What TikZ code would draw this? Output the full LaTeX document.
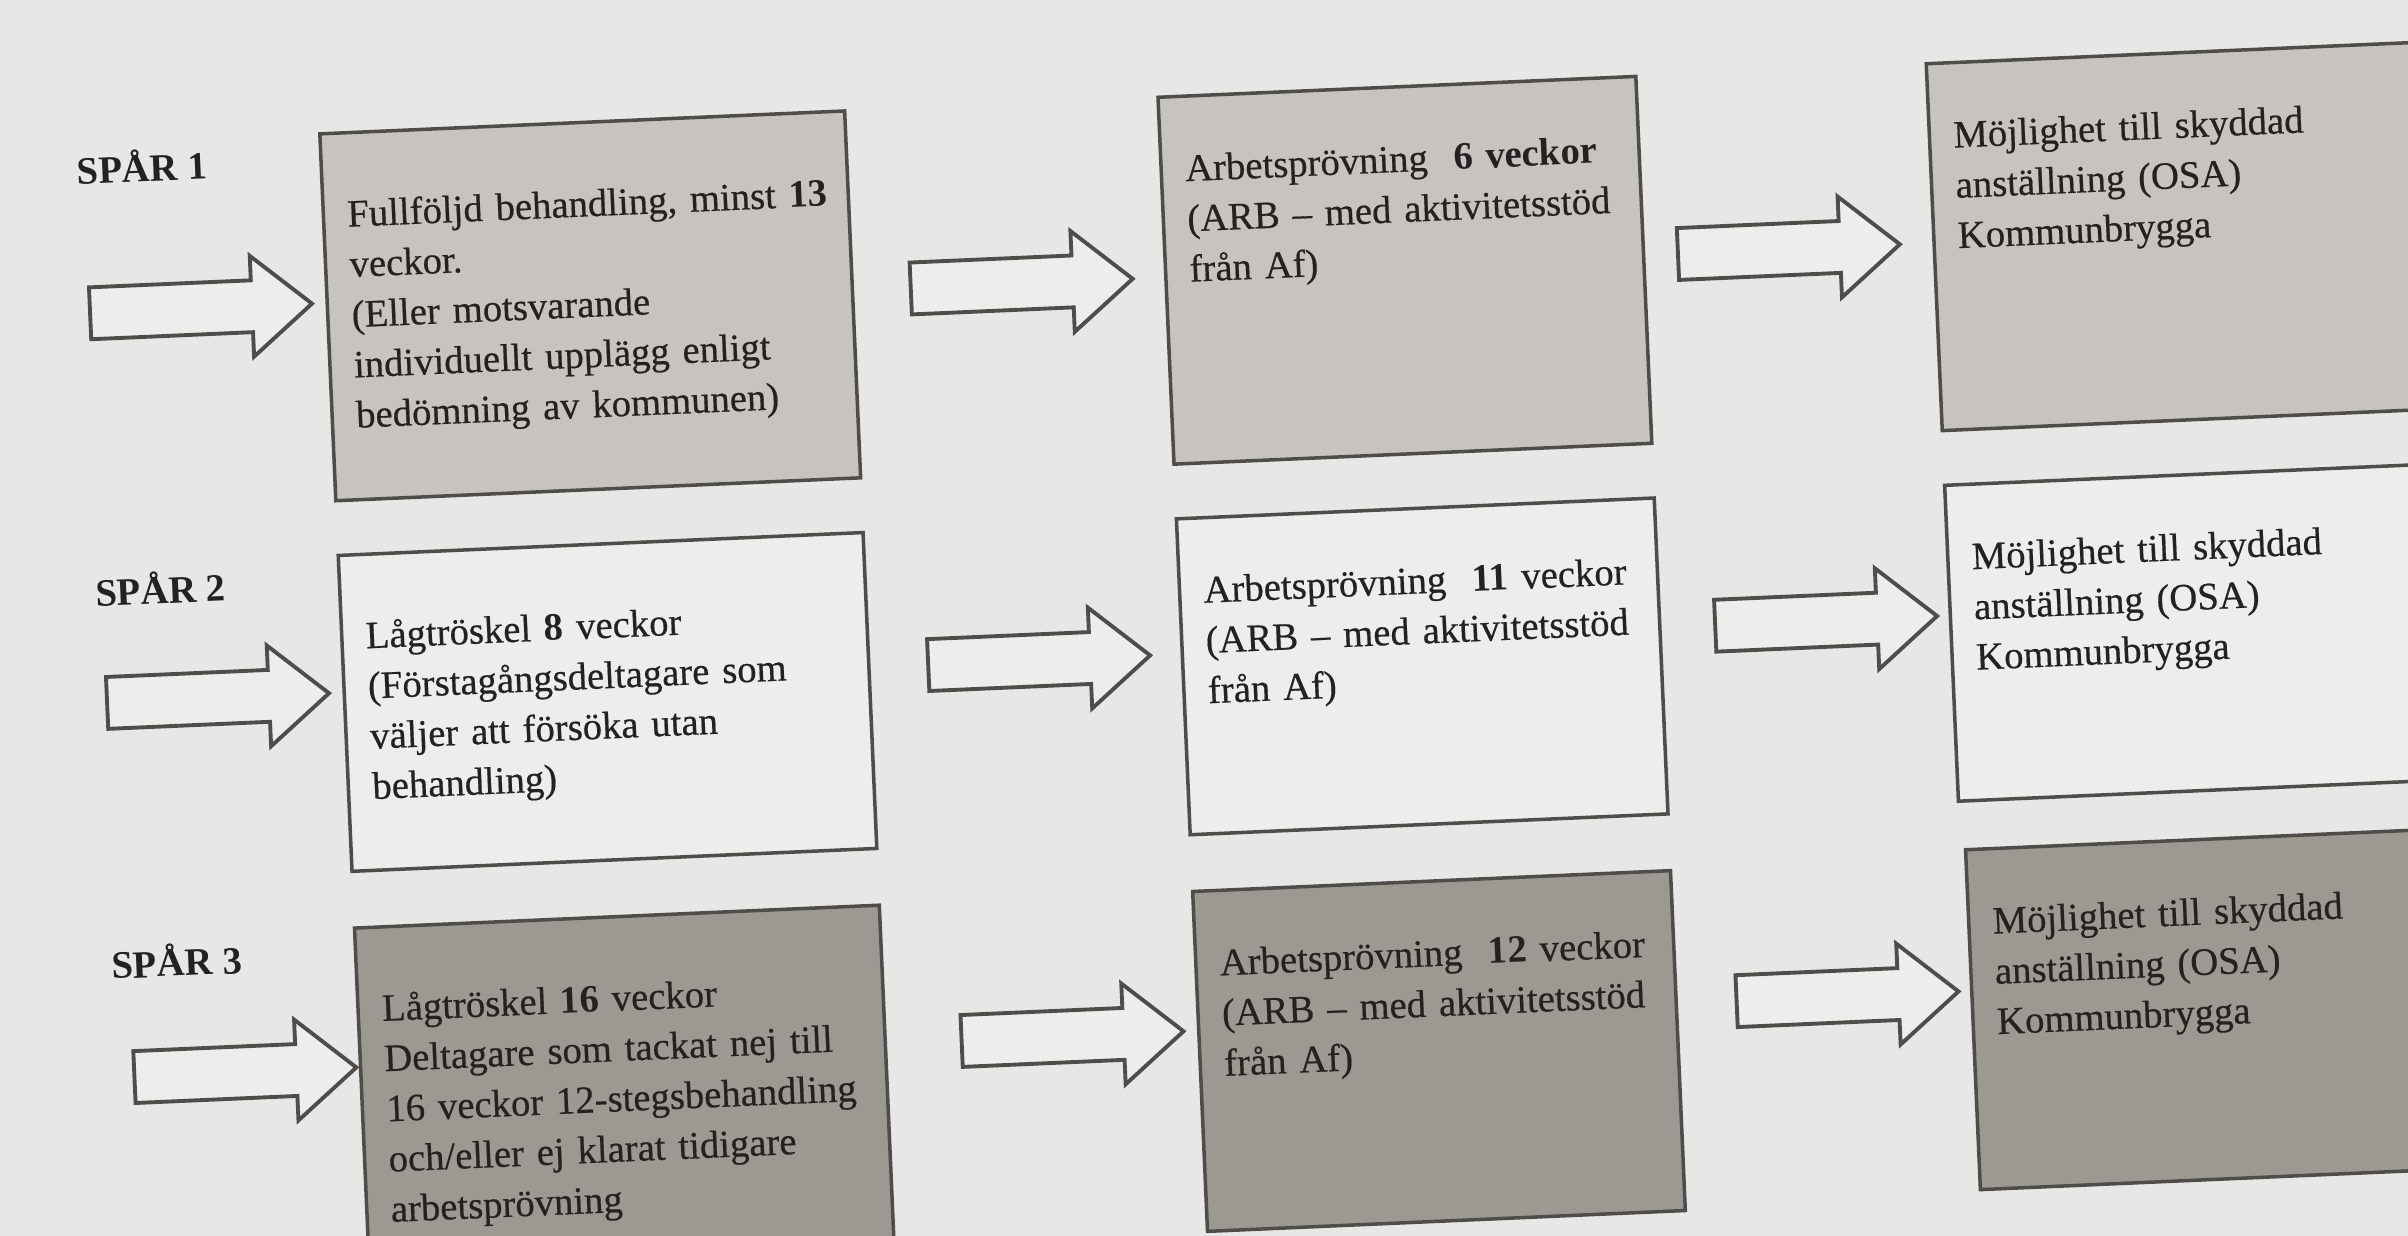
\documentclass[tikz,border=0pt]{standalone}
\usepackage{fontspec}
\setmainfont{Liberation Serif}[UprightFeatures={FakeBold=0.5}]
\usetikzlibrary{shapes.arrows}
\definecolor{paper}{HTML}{E7E7E5}
\definecolor{edge}{HTML}{4F4D4A}
\definecolor{ink}{HTML}{232220}
\definecolor{rowone}{HTML}{C7C4BF}
\definecolor{rowtwo}{HTML}{EDEDEB}
\definecolor{rowthree}{HTML}{9C9892}
\tikzset{
  box/.style={draw=edge, line width=1pt, anchor=north west, align=left,
    inner xsep=0.24cm, inner ysep=0pt, text=ink,
    font=\fontsize{11}{14.3}\selectfont},
  colA/.style={box, text width=4.77cm, text height=0.94cm},
  colB/.style={box, text width=4.30cm, text height=0.85cm},
  colC/.style={box, text width=4.52cm, text height=0.85cm},
  flow/.style={single arrow, draw=edge, fill=rowtwo, line width=1.1pt,
    minimum height=2.22cm, single arrow head extend=0.245cm,
    single arrow tip angle=80, inner sep=0pt,
    text height=0.24cm, text depth=0.24cm},
  lbl/.style={anchor=base west, inner sep=0pt, text=ink,
    font=\bfseries\fontsize{11}{13}\selectfont}
}
\begin{document}
\begin{tikzpicture}[x=0.01cm, y=-0.01cm]
  \useasboundingbox (0,0) rectangle (2408,1236);
  \fill[paper] (0,0) rectangle (2408,1236);
  \clip (0,0) rectangle (2408,1236);
  \begin{scope}[rotate around={2.5:(1204,618)}, transform shape]
    % track labels
    \foreach \y [count=\r] in {136,558,931}
      \node[lbl] (spar\r) at (97,\y) {SPÅR \r};
    % block arrows
    \foreach \x/\y/\n in {200/265/f11, 1021/276/f12, 1789/275/f13,
                          200/655/f21, 1022/653/f22, 1810/648/f23,
                          211/1030/f31, 1039/1030/f32, 1815/1024/f33}
      \node[flow] (\n) at (\x,\y) {};
    % SPÅR 1
    \node[colA, fill=rowone, text depth=2.73cm] (a1) at (340,94)
      {\mbox{Fullföljd behandling, minst \textbf{13}}\\veckor.\\(Eller motsvarande\\individuellt upplägg enligt\\bedömning av kommunen)};
    \node[colB, fill=rowone, text depth=2.82cm] (b1) at (1179,94)
      {Arbetsprövning\ \ \textbf{6 veckor}\\(ARB – med aktivitetsstöd\\från Af)};
    \node[colC, fill=rowone, text depth=2.82cm] (c1) at (1948,94)
      {Möjlighet till skyddad\\anställning (OSA)\\Kommunbrygga};
    % SPÅR 2
    \node[colA, fill=rowtwo, text depth=2.22cm] (a2) at (340,516)
      {Lågtröskel \textbf{8} veckor\\(Förstagångsdeltagare som\\väljer att försöka utan\\behandling)};
    \node[colB, fill=rowtwo, text depth=2.31cm] (b2) at (1179,516)
      {Arbetsprövning\ \ \textbf{11} veckor\\(ARB – med aktivitetsstöd\\från Af)};
    \node[colC, fill=rowtwo, text depth=2.31cm] (c2) at (1948,516)
      {Möjlighet till skyddad\\anställning (OSA)\\Kommunbrygga};
    % SPÅR 3
    \node[colA, fill=rowthree, text depth=2.46cm] (a3) at (340,889)
      {Lågtröskel \textbf{16} veckor\\Deltagare som tackat nej till\\16 veckor 12-stegsbehandling\\och/eller ej klarat tidigare\\arbetsprövning};
    \node[colB, fill=rowthree, text depth=2.55cm] (b3) at (1179,889)
      {Arbetsprövning\ \ \textbf{12} veckor\\(ARB – med aktivitetsstöd\\från Af)};
    \node[colC, fill=rowthree, text depth=2.55cm] (c3) at (1953,881)
      {Möjlighet till skyddad\\anställning (OSA)\\Kommunbrygga};
  \end{scope}
\end{tikzpicture}
\end{document}
